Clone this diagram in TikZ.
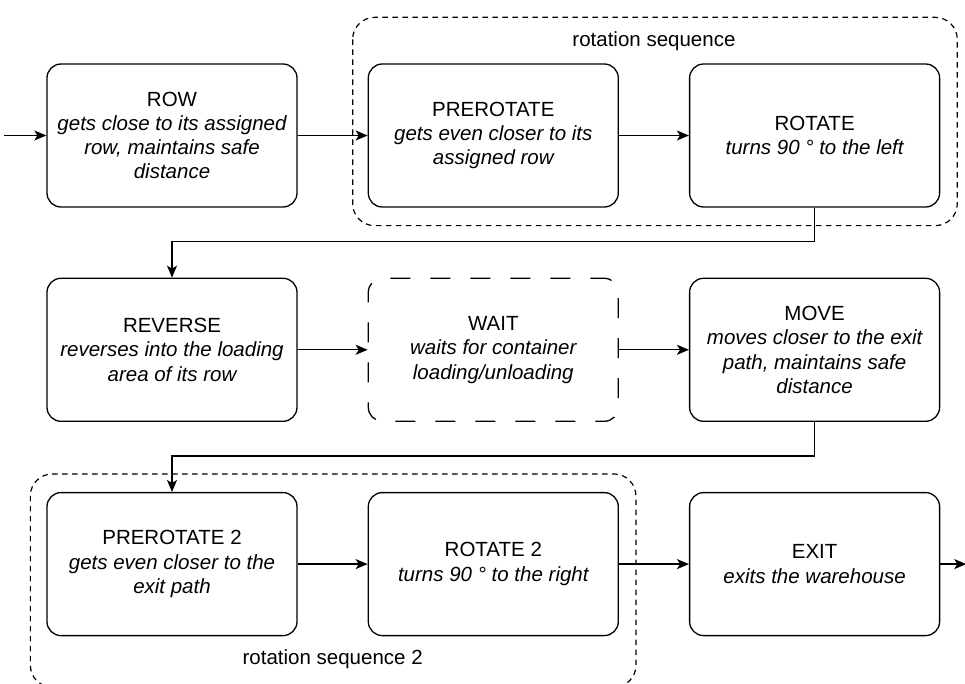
\documentclass[tikz,border=0pt]{standalone}
\usepackage{fontspec}
\setmainfont{Liberation Sans}
\usetikzlibrary{arrows.meta,positioning,calc}

\begin{document}
\begin{tikzpicture}[x=1pt, y=-1pt, node distance=70pt,
    block/.style={rectangle, draw, line width=1.3pt, rounded corners=14pt, minimum width=250pt, minimum height=143pt, align=center, inner sep=0pt, font=\fontsize{20.5}{24.3}\selectfont},
    waitblock/.style={block, dash pattern=on 20pt off 20pt, dash phase=6pt},
    group/.style={draw, line width=1.2pt, rounded corners=22pt, dash pattern=on 5.5pt off 4.5pt},
    grouplabel/.style={font=\fontsize{20.5}{24}\selectfont},
    line/.style={draw, line width=1.3pt, -{Stealth[length=12pt,width=10pt,inset=3pt]}}]

    \useasboundingbox (0,0) rectangle (965,684);

    \node [block] (row) at (172,135.5) {ROW\\\itshape gets close to its assigned\\\itshape row, maintains safe\\\itshape distance};
    \node [block, right=of row] (prerot) {PREROTATE\\\itshape gets even closer to its\\\itshape assigned row};
    \node [block, right=of prerot] (rot) {ROTATE\\\itshape turns 90 ° to the left};

    \node [block, below=of row] (rev) {REVERSE\\\itshape reverses into the loading\\\itshape area of its row};
    \node [waitblock, right=of rev] (wait) {WAIT\\\itshape waits for container\\\itshape loading/unloading};
    \node [block, right=of wait] (move) {MOVE\\\itshape moves closer to the exit\\\itshape path, maintains safe\\\itshape distance};

    \node [block, below=of rev] (prerot2) {PREROTATE 2\\\itshape gets even closer to the\\\itshape exit path};
    \node [block, right=of prerot2] (rot2) {ROTATE 2\\\itshape turns 90 ° to the right};
    \node [block, right=of rot2] (exit) {EXIT\\\itshape exits the warehouse};

    \draw [group] ($(prerot.north west)+(-15,-46)$) rectangle ($(rot.south east)+(17,18)$);
    \node [grouplabel] (seq) at ($(prerot.north)!0.5!(rot.north)+(0,-22)$) {rotation sequence};
    \draw [group] ($(prerot2.north west)+(-16,-18)$) rectangle ($(rot2.south east)+(17,51)$);
    \node [grouplabel] (seq2) at ($(prerot2.south)!0.5!(rot2.south)+(0,23)$) {rotation sequence 2};

    \coordinate (start) at ($(row.west)+(-42,0)$);
    \coordinate (end) at ($(exit.east)+(26,0)$);

    \path [line] (start) -- (row);
    \path [line] (row) -- (prerot);
    \path [line] (prerot) -- (rot);
    \path [line] (rot.south) -- ++(0,34) -| (rev.north);
    \path [line] (rev) -- (wait);
    \path [line] (wait) -- (move);
    \path [line] (move.south) -- ++(0,34) -| (prerot2.north);
    \path [line] (prerot2) -- (rot2);
    \path [line] (rot2) -- (exit);
    \path [line] (exit) -- (end);
\end{tikzpicture}
\end{document}
